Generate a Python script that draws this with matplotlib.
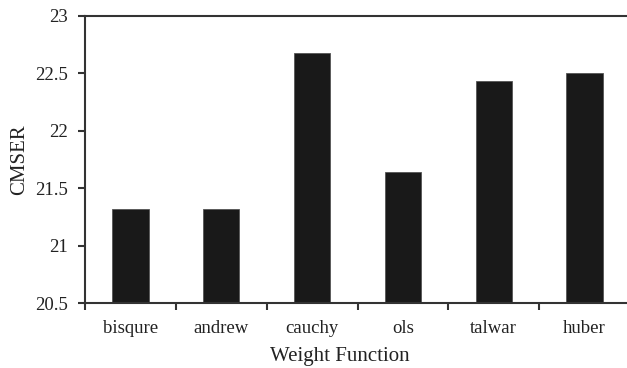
import matplotlib
matplotlib.use("Agg")
import matplotlib.pyplot as plt
import numpy as np

categories = ["bisqure", "andrew", "cauchy", "ols", "talwar", "huber"]
values = [21.32, 21.32, 22.675, 21.638, 22.434, 22.506]
yticks = [20.5, 21, 21.5, 22, 22.5, 23]
ytick_labels = ["20.5", "21", "21.5", "22", "22.5", "23"]

plt.rcParams['font.family'] = ['Liberation Serif', 'DejaVu Serif']

fig = plt.figure(figsize=(6.27, 3.68), dpi=100)
W, H = 627, 368
left, right, top, bottom = 85, 630, 16, 303
ax = fig.add_axes([left / W, (H - bottom) / H, (right - left) / W, (bottom - top) / H])

x = np.arange(len(categories))
ax.bar(x, [v - 20.5 for v in values], bottom=20.5, width=0.4, color="#191919",
       edgecolor="#555555", linewidth=0.6)

ax.set_xlim(-0.5, len(categories) - 0.5)
ax.set_ylim(20.5, 23)
ax.set_yticks(yticks)
ax.set_yticklabels(ytick_labels)
ax.set_xticks(x)
ax.set_xticklabels(categories)
ax.set_xticks(np.arange(len(categories) + 1) - 0.5, minor=True)

ax.tick_params(axis='x', which='major', length=0, pad=12, labelsize=13.5, colors="#222222")
ax.tick_params(axis='x', which='minor', length=5, width=1.5, direction='out', color="#333333")
ax.tick_params(axis='y', length=5, width=1.5, direction='out', pad=7, labelsize=13.5, colors="#222222")
ax.tick_params(axis='y', color="#333333")

for s in ax.spines.values():
    s.set_color("#333333")
    s.set_linewidth(1.5)

ax.set_ylabel("CMSER", fontsize=15, color="#222222")
ax.yaxis.set_label_coords(-(left - 29) / (right - left), 0.5)
ax.set_xlabel("Weight Function", fontsize=15, color="#222222")
ax.xaxis.set_label_coords((340 - left) / (right - left), -(347 - bottom) / (bottom - top))

fig.savefig("out.png", dpi=100)
